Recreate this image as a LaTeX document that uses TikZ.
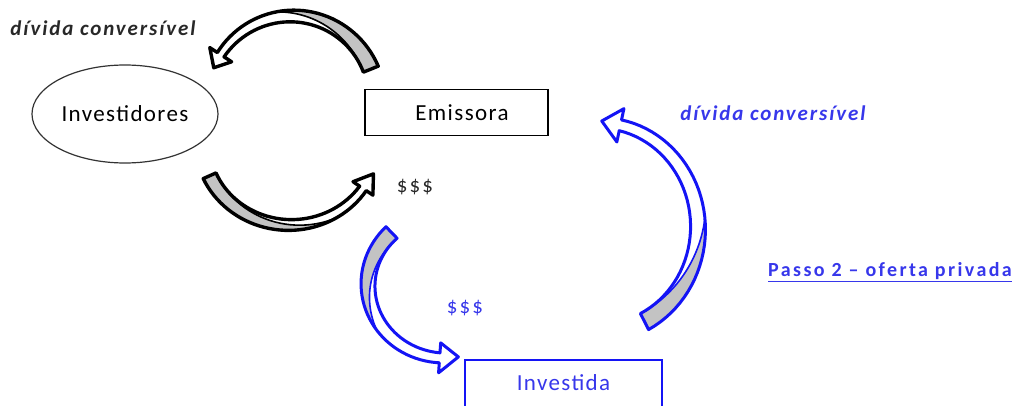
\documentclass[tikz,border=0pt]{standalone}
\usepackage{fontspec}
\setmainfont{Carlito}
\usetikzlibrary{shapes.geometric}
\definecolor{pblue}{RGB}{20,20,245}
\definecolor{tblue}{RGB}{55,55,235}
\definecolor{agray}{RGB}{195,195,195}
\definecolor{tdark}{RGB}{40,40,40}

\pgfkeys{/ca/.cd,
 cx/.store in=\caCx, cy/.store in=\caCy, rx/.store in=\caRx, ry/.store in=\caRy,
 t1/.store in=\caTa, tb/.store in=\caTb, tt/.store in=\caTt, tm/.store in=\caTm,
 wt/.store in=\caWt, wb/.store in=\caWb, hw/.store in=\caHw, toff/.store in=\caToff,
 col/.store in=\caCol, lw/.store in=\caLw, toff=0, lw=3}

\newcommand\curvearrow[1]{%
 \pgfkeys{/ca/.cd,#1}%
 \def\caW{(\caWt+(\caWb-\caWt)*(\x-\caTa)/(\caTb-\caTa))}%
 \def\caS{((\x-\caTm)/(\caTa-\caTm))}%
 \def\caD{(\caW/2-\caW*(2*\caS-\caS*\caS))}%
 \def\caOutline{plot[domain=\caTa:\caTb,samples=40] ({\caCx+(\caRx+\caW/2)*cos(\x)},{\caCy+(\caRy+\caW/2)*sin(\x)})
   -- ({\caCx+(\caRx+\caHw/2)*cos(\caTb)},{\caCy+(\caRy+\caHw/2)*sin(\caTb)})
   -- ({\caCx+(\caRx+\caToff)*cos(\caTt)},{\caCy+(\caRy+\caToff)*sin(\caTt)})
   -- ({\caCx+(\caRx-\caHw/2)*cos(\caTb)},{\caCy+(\caRy-\caHw/2)*sin(\caTb)})
   -- plot[domain=\caTb:\caTa,samples=40] ({\caCx+(\caRx-\caW/2)*cos(\x)},{\caCy+(\caRy-\caW/2)*sin(\x)})
   -- cycle}%
 \fill[white] \caOutline;
 \fill[agray] plot[domain=\caTa:\caTm,samples=30] ({\caCx+(\caRx+\caW/2)*cos(\x)},{\caCy+(\caRy+\caW/2)*sin(\x)})
   -- plot[domain=\caTm:\caTa,samples=30] ({\caCx+(\caRx+\caD)*cos(\x)},{\caCy+(\caRy+\caD)*sin(\x)}) -- cycle;
 \draw[draw=\caCol, line width=1.6] plot[domain=\caTm:\caTa,samples=30] ({\caCx+(\caRx+\caD)*cos(\x)},{\caCy+(\caRy+\caD)*sin(\x)});
 \draw[draw=\caCol, line width=\caLw, line join=round] \caOutline;
}

\tikzset{
 lbl/.style={font=\fontsize{23}{27}\selectfont\addfontfeature{LetterSpace=6}, inner sep=0pt},
 dvtext/.style={font=\bfseries\itshape\fontsize{21}{25}\selectfont\addfontfeature{LetterSpace=9}, inner sep=0pt},
 money/.style={font=\fontsize{21}{25}\selectfont\addfontfeature{LetterSpace=10}, inner sep=0pt}
}

\begin{document}
\begin{tikzpicture}[x=1pt,y=1pt]
\useasboundingbox (0,0) rectangle (1019,405);
\fill[white] (0,0) rectangle (1019,405);

% nodes
\node[ellipse, draw=black!80, line width=1.2, minimum width=186, minimum height=98, lbl] (inv) at (125,291) {Investidores};
\node[rectangle, draw=black, line width=1.2, minimum width=183, minimum height=46, lbl] (emi) at (456.5,292.5) {\hspace*{11pt}Emissora};
\node[rectangle, draw=pblue, line width=1.2, minimum width=197, minimum height=70] (investidabox) at (563.5,10) {};
\node[lbl, text=tblue] (investida) at (563.5,22) {Investida};

% texts
\node[dvtext, text=tdark] (dc1) at (103,377) {dívida conversível};
\node[dvtext, text=tblue] (dc2) at (773,292) {dívida conversível};
\node[money, text=tdark] (m1) at (415,218) {\$\$\$};
\node[money, text=tblue] (m2) at (465,97) {\$\$\$};
\node[font=\bfseries\fontsize{20}{24}\selectfont\addfontfeature{LetterSpace=12}, text=tblue, inner sep=0pt] (passo) at (890,133) {\underline{Passo 2 – oferta privada}};

% curved arrows
\curvearrow{cx=292, cy=304, rx=85, ry=85, t1=22, tb=147, tt=157, tm=100, wt=16, wb=8, hw=26, toff=0, col=black, lw=3.4}
\curvearrow{cx=290, cy=263, rx=88, ry=83, t1=204, tb=326, tt=338, tm=300, wt=14, wb=8, hw=24, toff=2, col=black, lw=3.4}
\curvearrow{cx=445, cy=120, rx=77, ry=73, t1=134, tb=266, tt=280, tm=215, wt=16, wb=10, hw=30, toff=0, col=pblue, lw=3}
\curvearrow{cx=600, cy=177, rx=98, ry=105, t1=-63, tb=78, tt=89, tm=5, wt=18, wb=11, hw=34, toff=2, col=pblue, lw=3}
\end{tikzpicture}
\end{document}
